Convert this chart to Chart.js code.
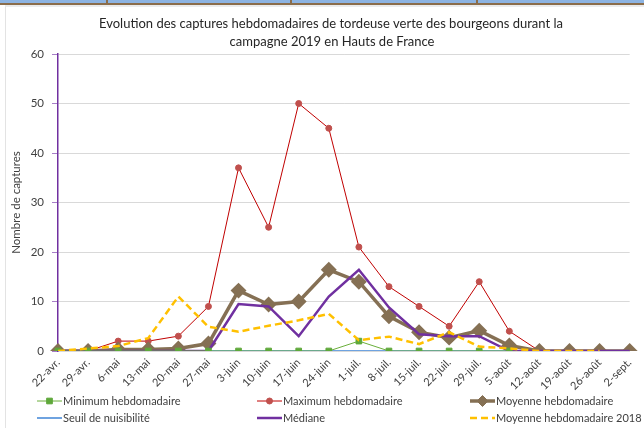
<!DOCTYPE html>
<html><head><meta charset="UTF-8"><title>Tordeuse verte des bourgeons 2019</title>
<script src="https://cdn.jsdelivr.net/npm/chart.js"></script>
<style>
    html, body { margin: 0; padding: 0; background: #fff; }
    #wrap { position: relative; width: 644px; height: 428px; overflow: hidden; }
    #strip { position: absolute; left: 0; top: 0; width: 644px; height: 3px; background: #8db4e2; border-bottom: 2px solid #8b6d4b; }
    #strip i { position: absolute; top: 0; width: 2px; height: 3px; background: #8b6d4b; }
    #frame { position: absolute; left: 5px; top: 5px; right: 0; bottom: 0; border-left: 1px solid #e3e3e3; border-top: 2px solid #ececec; }
    canvas { position: absolute; left: 0; top: 0; }
</style></head><body>
<div id="wrap">
    <div id="frame"></div>
    <div id="strip"><i style="left:106px"></i><i style="left:290px"></i><i style="left:476px"></i></div>
    <canvas id="cap" width="644" height="428"></canvas>
</div>
<script>
const weeks = ['22-avr.','29-avr.','6-mai','13-mai','20-mai','27-mai','3-juin','10-juin','17-juin','24-juin',
               '1-juil.','8-juil.','15-juil.','22-juil.','29-juil.','5-août','12-août','19-août','26-août','2-sept.'];

const minHebdo   = [0, 0, 0, 0, 0, 0, 0, 0, 0, 0, 2, 0, 0, 0, 0, 0, null, null, null, null];
const maxHebdo   = [0, 0, 2, 2, 3, 9, 37, 25, 50, 45, 21, 13, 9, 5, 14, 4, 0, null, null, null];
const moyHebdo   = [0, 0, 0.3, 0.3, 0.5, 1.5, 12.2, 9.4, 10, 16.4, 14, 7, 3.8, 2.7, 4.1, 1.1, 0, 0, 0, 0];
const seuil      = [0, 0, 0, 0, 0, 0, 0, 0, 0, 0, 0, 0, 0, 0, 0, 0, null, null, null, null];
const mediane    = [0, 0, 0, 0, 0, 0, 9.5, 9.0, 3, 11, 16.4, 8.8, 3.4, 3, 3, 0, 0, 0, 0, 0];
const moy2018    = [0, 0.5, 1, 2.6, 11, 4.9, 3.9, 5.1, 6.2, 7.5, 2.2, 2.9, 1.4, 3.8, 0.9, 0.5, 0, 0, 0, null];

const yTicks = [0, 10, 20, 30, 40, 50, 60];

const FONT = 'Lato';
const TXT = '#404040';

// titre + légende dessinés à la main (3 colonnes comme dans Excel)
const decor = {
    id: 'decor',
    afterDraw(chart) {
        const ctx = chart.ctx;
        ctx.save();
        ctx.fillStyle = '#262626';
        ctx.font = '13px ' + FONT;
        ctx.textAlign = 'center';
        ctx.textBaseline = 'middle';
        ctx.fillText('Evolution des captures hebdomadaires de tordeuse verte des bourgeons durant la', 331, 24);
        ctx.fillText('campagne 2019 en Hauts de France', 332, 42);

        const cols = [37, 257, 470], rows = [401, 418];
        ctx.font = '11px ' + FONT;
        ctx.textAlign = 'left';
        chart.data.datasets.forEach((ds, i) => {
            const x = cols[i % 3], y = rows[Math.floor(i / 3)];
            ctx.save();
            ctx.strokeStyle = ds.borderColor;
            ctx.lineWidth = ds.borderWidth;
            ctx.setLineDash(ds.borderDash || []);
            ctx.beginPath(); ctx.moveTo(x, y); ctx.lineTo(x + 25, y); ctx.stroke();
            ctx.setLineDash([]);
            if (ds.pointRadius > 0) {
                ctx.fillStyle = ds.pointBackgroundColor;
                ctx.strokeStyle = ds.pointBorderColor;
                ctx.lineWidth = 1;
                Chart.helpers.drawPoint(ctx, { pointStyle: ds.pointStyle, radius: ds.pointRadius, borderWidth: 1, rotation: 0 }, x + 12.5, y);
            }
            ctx.restore();
            ctx.fillStyle = TXT;
            ctx.fillText(ds.label, x + 26, y + 0.5);
        });
        ctx.restore();
    }
};

new Chart(document.getElementById('cap'), {
    type: 'line',
    data: {
        labels: weeks,
        datasets: [
            { label: 'Minimum hebdomadaire', data: minHebdo, borderColor: '#6aae3a', borderWidth: 1,
              pointStyle: 'rect', pointRadius: 4, pointBackgroundColor: '#5ea83a', pointBorderColor: '#5ea83a', order: 1 },
            { label: 'Maximum hebdomadaire', data: maxHebdo, borderColor: '#c00000', borderWidth: 1,
              pointStyle: 'circle', pointRadius: 3, pointBackgroundColor: '#c0504d', pointBorderColor: '#c0504d', order: 5 },
            { label: 'Moyenne hebdomadaire', data: moyHebdo, borderColor: '#857054', borderWidth: 3.5,
              pointStyle: 'rectRot', pointRadius: 5.5, pointBackgroundColor: '#857054', pointBorderColor: '#857054', order: 3 },
            { label: 'Seuil de nuisibilité', data: seuil, borderColor: '#6fa3e0', borderWidth: 2,
              pointRadius: 0, order: 4 },
            { label: 'Médiane', data: mediane, borderColor: '#7030a0', borderWidth: 2.5,
              pointRadius: 0, order: 2 },
            { label: 'Moyenne hebdomadaire 2018', data: moy2018, borderColor: '#ffc000', borderWidth: 2.5,
              borderDash: [7, 4], pointRadius: 0, order: 0 }
        ]
    },
    options: {
        responsive: false,
        animation: false,
        events: [],
        layout: { padding: { top: 54, right: 11, left: 0, bottom: 0 } },
        elements: { line: { tension: 0, fill: false }, point: { hoverRadius: 0 } },
        plugins: { legend: { display: false }, title: { display: false }, tooltip: { enabled: false } },
        scales: {
            x: {
                offset: false,
                grid: { display: false, drawTicks: false },
                border: { color: '#d9d9d9' },
                ticks: { autoSkip: false, minRotation: 45, maxRotation: 45, padding: 5,
                         color: TXT, font: { family: FONT, size: 11 } },
                afterFit(s) { s.height = 77; }
            },
            y: {
                min: 0, max: 60,
                afterBuildTicks(s) { s.ticks = yTicks.map(v => ({ value: v })); },
                grid: { color: '#d9d9d9', tickLength: 6, tickColor: '#a77fc7' },
                border: { color: '#7030a0', width: 1.5 },
                ticks: { padding: 8, color: TXT, font: { family: FONT, size: 11.5 } },
                title: { display: true, text: 'Nombre de captures', color: TXT,
                         font: { family: FONT, size: 11.5 }, padding: { top: 9, bottom: 0 } },
                afterFit(s) { s.width = 58; }
            }
        }
    },
    plugins: [decor]
});
</script>
</body></html>
